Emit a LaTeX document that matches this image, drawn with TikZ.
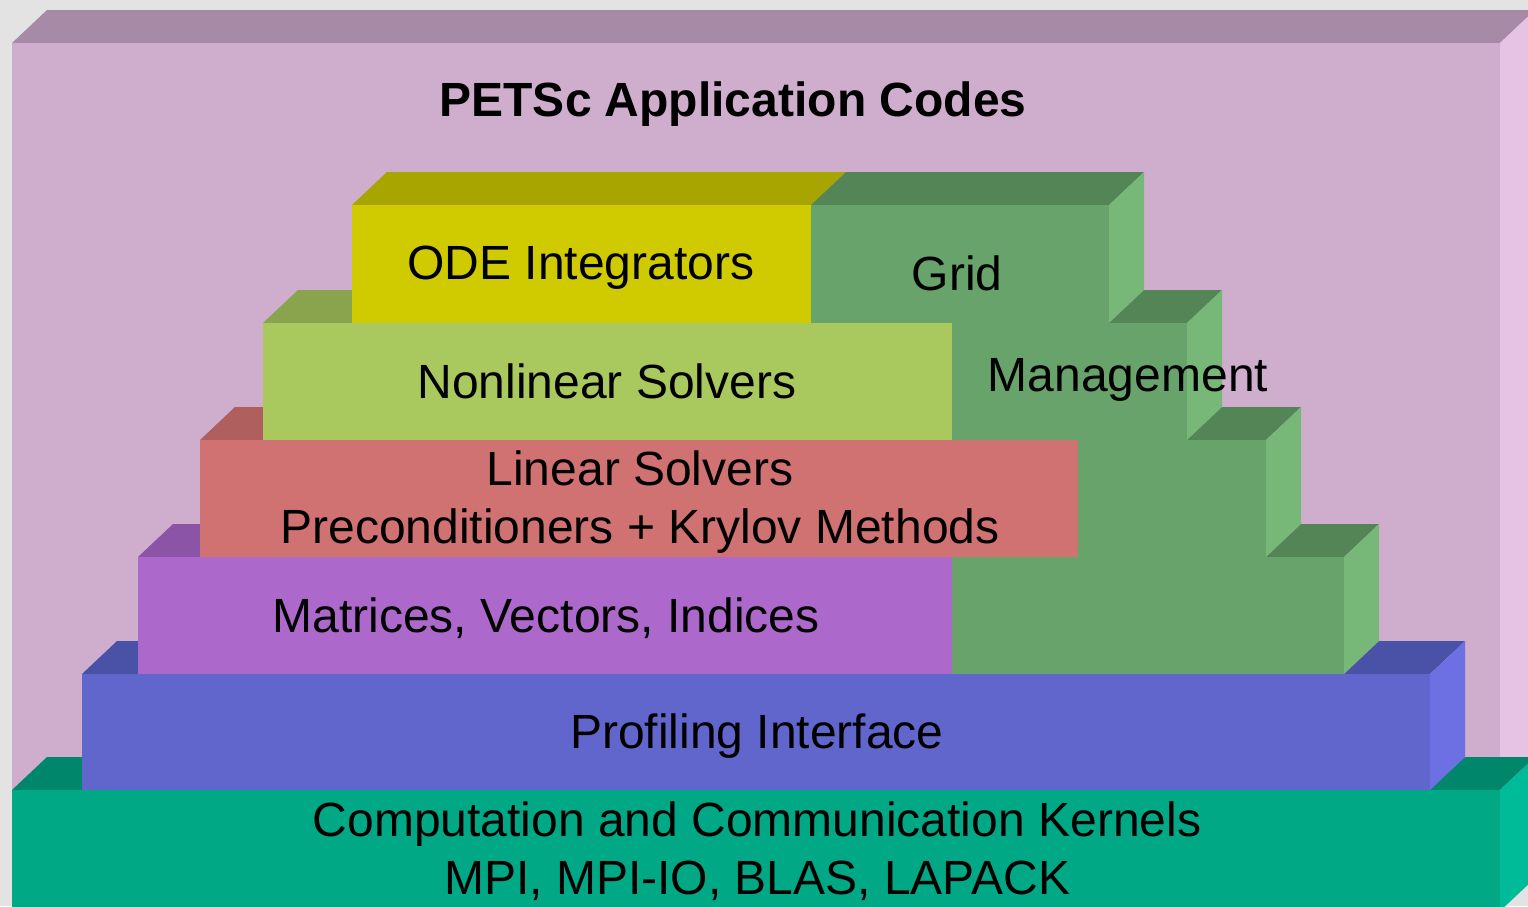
\documentclass[tikz,border=0pt]{standalone}
\usepackage{fontspec}
\setmainfont{Liberation Sans}
\definecolor{bggray}{HTML}{E3E3E3}
\definecolor{outF}{HTML}{CFADCD}
\definecolor{outT}{HTML}{A78AA6}
\definecolor{outS}{HTML}{E6C3E5}
\definecolor{tealF}{HTML}{00A886}
\definecolor{tealT}{HTML}{00866B}
\definecolor{tealS}{HTML}{00BB98}
\definecolor{bluF}{HTML}{6066CC}
\definecolor{bluT}{HTML}{4A52A7}
\definecolor{bluS}{HTML}{6D70E3}
\definecolor{purF}{HTML}{AD68CC}
\definecolor{purT}{HTML}{8C54A7}
\definecolor{redF}{HTML}{CF7271}
\definecolor{redT}{HTML}{AE5F5E}
\definecolor{lgrF}{HTML}{A9C95F}
\definecolor{lgrT}{HTML}{8AA44E}
\definecolor{yelF}{HTML}{CFCB00}
\definecolor{yelT}{HTML}{A8A500}
\definecolor{grdF}{HTML}{68A36B}
\definecolor{grdT}{HTML}{538556}
\definecolor{grdS}{HTML}{77B879}
\newcommand{\boxfront}[5]{\fill[#5] (#1,#3) rectangle (#2,#4);}
\newcommand{\boxtop}[4]{\fill[#4] (#1,#3) -- (#1+35,#3-33) -- (#2+35,#3-33) -- (#2,#3) -- cycle;}
\newcommand{\boxside}[4]{\fill[#4] (#1,#2) -- (#1+35,#2-33) -- (#1+35,#3-33) -- (#1,#3) -- cycle;}
\begin{document}
\begin{tikzpicture}[x=1pt,y=-1pt,
  lbl/.style={anchor=base,inner sep=0pt,text=black,font=\fontsize{48}{58}\selectfont,align=center},
  ttl/.style={lbl,font=\fontsize{48}{58}\selectfont\bfseries}]
\useasboundingbox (0,0) rectangle (1528,906);
\fill[bggray] (0,0) rectangle (1528,906);
% outer application box
\boxtop{12}{1500}{43}{outT}
\boxfront{12}{1500}{43}{911}{outF}
\boxside{1500}{43}{911}{outS}
% kernels
\boxtop{12}{1500}{790}{tealT}
\boxfront{12}{1500}{790}{911}{tealF}
\boxside{1500}{790}{911}{tealS}
% profiling
\boxtop{82}{1430}{674}{bluT}
\boxfront{82}{1430}{674}{790}{bluF}
\boxside{1430}{674}{790}{bluS}
% matrices level
\boxtop{138}{952}{557}{purT}
\boxfront{138}{952}{557}{674}{purF}
\boxtop{952}{1344}{557}{grdT}
\boxfront{952}{1344}{557}{674}{grdF}
\boxside{1344}{557}{674}{grdS}
% linear solvers level
\boxtop{200}{1078}{440}{redT}
\boxfront{200}{1078}{440}{557}{redF}
\boxtop{1078}{1266}{440}{grdT}
\boxfront{1078}{1266}{440}{557}{grdF}
\boxside{1266}{440}{557}{grdS}
% nonlinear level
\boxtop{263}{952}{323}{lgrT}
\boxfront{263}{952}{323}{440}{lgrF}
\boxtop{952}{1187}{323}{grdT}
\boxfront{952}{1187}{323}{440}{grdF}
\boxside{1187}{323}{440}{grdS}
% ODE level
\boxtop{352}{811}{205}{yelT}
\boxfront{352}{811}{205}{323}{yelF}
\boxtop{811}{1109}{205}{grdT}
\boxfront{811}{1109}{205}{323}{grdF}
\boxside{1109}{205}{323}{grdS}
% labels
\node[ttl] (app) at (733,116) {PETSc Application Codes};
\node[lbl] (ode) at (581,279) {ODE Integrators};
\node[lbl] (grid) at (957,290) {Grid};
\node[lbl] (mgmt) at (1128,391) {Management};
\node[lbl] (snes) at (607,398) {Nonlinear Solvers};
\node[lbl] (lin) at (640,485) {Linear Solvers};
\node[lbl] (pc) at (640,543) {Preconditioners + Krylov Methods};
\node[lbl] (mat) at (546,632) {Matrices, Vectors, Indices};
\node[lbl] (prof) at (757,748) {Profiling Interface};
\node[lbl] (comp) at (757,836) {Computation and Communication Kernels};
\node[lbl] (mpi) at (757,894) {MPI, MPI-IO, BLAS, LAPACK};
\end{tikzpicture}
\end{document}
